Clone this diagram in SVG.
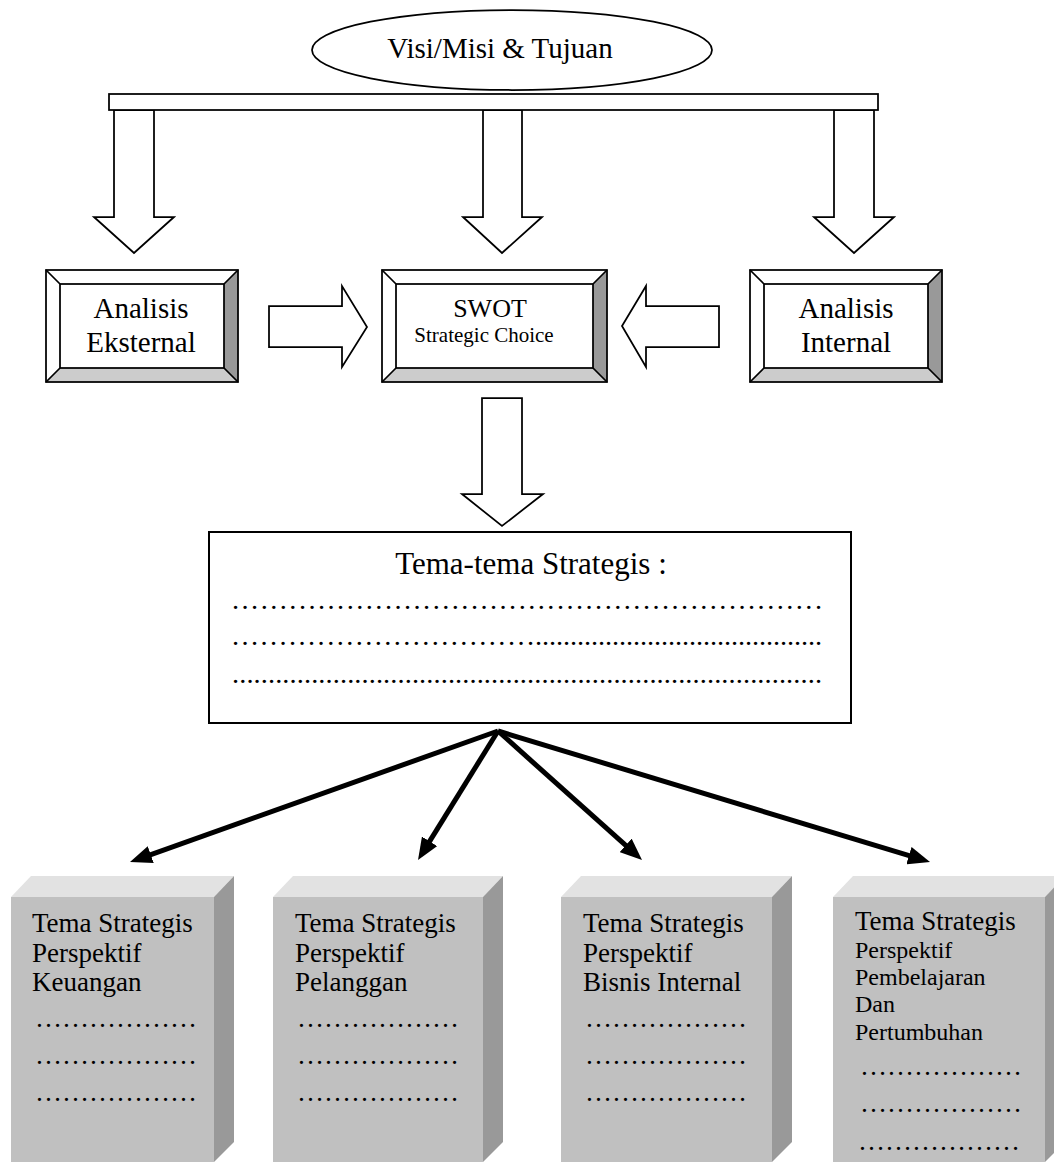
<svg xmlns="http://www.w3.org/2000/svg" width="1054" height="1162" viewBox="0 0 1054 1162">
<style>
  text { font-family: "Liberation Serif", "Times New Roman", serif; fill: #000; }
  .ln { fill: none; stroke: #000; stroke-width: 1.75; }
  .wf { fill: #fff; stroke: #000; stroke-width: 1.75; stroke-linejoin: miter; }
  .bevR { fill: #999; stroke: none; }
  .bevB { fill: #ccc; stroke: none; }
  .front { fill: #c0c0c0; }
  .top { fill: #e2e2e2; }
  .side { fill: #999; }
  .dots { font-size: 28.35px; }
  .conn { stroke: #000; stroke-width: 5; fill: none; marker-end: url(#ah); }
</style>
<defs>
  <marker id="ah" markerUnits="userSpaceOnUse" markerWidth="22" markerHeight="18" viewBox="0 0 22 18" refX="8" refY="9" orient="auto">
    <path d="M0,0 L22,9 L0,18 z" fill="#000"/>
  </marker>
</defs>
<rect width="1054" height="1162" fill="#fff"/>

<g id="visi">
  <ellipse cx="512" cy="50" rx="200" ry="40" class="wf"/>
  <text x="500" y="58" font-size="29" text-anchor="middle">Visi/Misi &amp; Tujuan</text>
</g>

<g id="connectors">
  <polygon class="wf" points="114,110 154,110 154,217 174,217 134,253 94,217 114,217"/>
  <polygon class="wf" points="483,110 522,110 522,217 542,217 502,253 463,217 483,217"/>
  <polygon class="wf" points="834,110 874,110 874,217 894,217 854,253 814,217 834,217"/>
  <rect class="wf" x="109" y="94" width="769" height="16"/>
  <polygon class="wf" points="269,306 342,306 342,286 367,327 342,367 342,347 269,347"/>
  <polygon class="wf" points="719,306 646,306 646,286 622,326 646,367 646,347 719,347"/>
  <polygon class="wf" points="482,398 522,398 522,494 543,494 502,526 462,494 482,494"/>
  <line class="conn" x1="498" y1="731" x2="143.2" y2="857.3"/>
  <line class="conn" x1="498" y1="731" x2="425.4" y2="848.1"/>
  <line class="conn" x1="498" y1="731" x2="631.6" y2="850.7"/>
  <line class="conn" x1="498" y1="731" x2="916.6" y2="857.9"/>
</g>

<g id="analisis-eksternal">
  <rect x="46" y="270" width="192" height="112" fill="#fff"/>
  <polygon class="bevR" points="238,270 238,382 224,368 224,284"/>
  <polygon class="bevB" points="46,382 238,382 224,368 60,368"/>
  <rect class="ln" x="60" y="284" width="164" height="84"/>
  <path class="ln" d="M46,270 L60,284 M238,270 L224,284 M46,382 L60,368 M238,382 L224,368"/>
  <rect class="ln" x="46" y="270" width="192" height="112"/>
  <text x="141" y="318" font-size="29" text-anchor="middle">Analisis</text>
  <text x="141" y="352" font-size="29" text-anchor="middle">Eksternal</text>
</g>

<g id="swot">
  <rect x="382" y="270" width="225" height="112" fill="#fff"/>
  <polygon class="bevR" points="607,270 607,382 593,368 593,284"/>
  <polygon class="bevB" points="382,382 607,382 593,368 396,368"/>
  <rect class="ln" x="396" y="284" width="197" height="84"/>
  <path class="ln" d="M382,270 L396,284 M607,270 L593,284 M382,382 L396,368 M607,382 L593,368"/>
  <rect class="ln" x="382" y="270" width="225" height="112"/>
  <text x="490" y="317" font-size="26" text-anchor="middle">SWOT</text>
  <text x="484" y="342" font-size="21" text-anchor="middle">Strategic Choice</text>
</g>

<g id="analisis-internal">
  <rect x="750" y="270" width="192" height="112" fill="#fff"/>
  <polygon class="bevR" points="942,270 942,382 928,368 928,284"/>
  <polygon class="bevB" points="750,382 942,382 928,368 764,368"/>
  <rect class="ln" x="764" y="284" width="164" height="84"/>
  <path class="ln" d="M750,270 L764,284 M942,270 L928,284 M750,382 L764,368 M942,382 L928,368"/>
  <rect class="ln" x="750" y="270" width="192" height="112"/>
  <text x="846" y="318" font-size="29" text-anchor="middle">Analisis</text>
  <text x="846" y="352" font-size="29" text-anchor="middle">Internal</text>
</g>

<g id="tema-tema">
  <rect x="209" y="532" width="642" height="191" fill="#fff" stroke="#000" stroke-width="2"/>
  <text x="531" y="574" font-size="31" text-anchor="middle">Tema-tema Strategis :</text>
  <text class="dots" x="232" y="609" textLength="590" lengthAdjust="spacing">..............................................................</text>
  <text class="dots" x="232" y="645" textLength="302" lengthAdjust="spacing">................................</text>
  <text class="dots" x="535" y="645" textLength="287" lengthAdjust="spacing">.........................................</text>
  <text class="dots" x="232" y="683" textLength="590" lengthAdjust="spacing">..................................................................................</text>
</g>

<g id="keuangan">
  <polygon class="top" points="11,897 31,876 234,876 214,897"/>
  <polygon class="side" points="214,897 234,876 234,1142 214,1162"/>
  <rect class="front" x="11" y="897" width="203" height="265"/>
  <text x="32" y="932" font-size="27">Tema Strategis</text>
  <text x="32" y="962" font-size="27">Perspektif</text>
  <text x="32" y="991" font-size="27">Keuangan</text>
  <text x="35" y="1027" font-size="27">………………</text>
  <text x="35" y="1064" font-size="27">………………</text>
  <text x="35" y="1101" font-size="27">………………</text>
</g>

<g id="pelanggan">
  <polygon class="top" points="273,897 293,876 503,876 483,897"/>
  <polygon class="side" points="483,897 503,876 503,1142 483,1162"/>
  <rect class="front" x="273" y="897" width="210" height="265"/>
  <text x="295" y="932" font-size="27">Tema Strategis</text>
  <text x="295" y="962" font-size="27">Perspektif</text>
  <text x="295" y="991" font-size="27">Pelanggan</text>
  <text x="297" y="1027" font-size="27">………………</text>
  <text x="297" y="1064" font-size="27">………………</text>
  <text x="297" y="1101" font-size="27">………………</text>
</g>

<g id="bisnis-internal">
  <polygon class="top" points="561,897 581,876 792,876 772,897"/>
  <polygon class="side" points="772,897 792,876 792,1142 772,1162"/>
  <rect class="front" x="561" y="897" width="211" height="265"/>
  <text x="583" y="932" font-size="27">Tema Strategis</text>
  <text x="583" y="962" font-size="27">Perspektif</text>
  <text x="583" y="991" font-size="27">Bisnis Internal</text>
  <text x="585" y="1027" font-size="27">………………</text>
  <text x="585" y="1064" font-size="27">………………</text>
  <text x="585" y="1101" font-size="27">………………</text>
</g>

<g id="pembelajaran">
  <polygon class="top" points="833,897 853,876 1065,876 1045,897"/>
  <polygon class="side" points="1045,897 1065,876 1065,1142 1045,1162"/>
  <rect class="front" x="833" y="897" width="212" height="265"/>
  <text x="855" y="930" font-size="27">Tema Strategis</text>
  <text x="855" y="958" font-size="24">Perspektif</text>
  <text x="855" y="985" font-size="24">Pembelajaran</text>
  <text x="855" y="1012" font-size="24">Dan</text>
  <text x="855" y="1040" font-size="24">Pertumbuhan</text>
  <text x="860" y="1075" font-size="27">………………</text>
  <text x="860" y="1112" font-size="27">………………</text>
  <text x="858" y="1150" font-size="27">………………</text>
</g>
</svg>
